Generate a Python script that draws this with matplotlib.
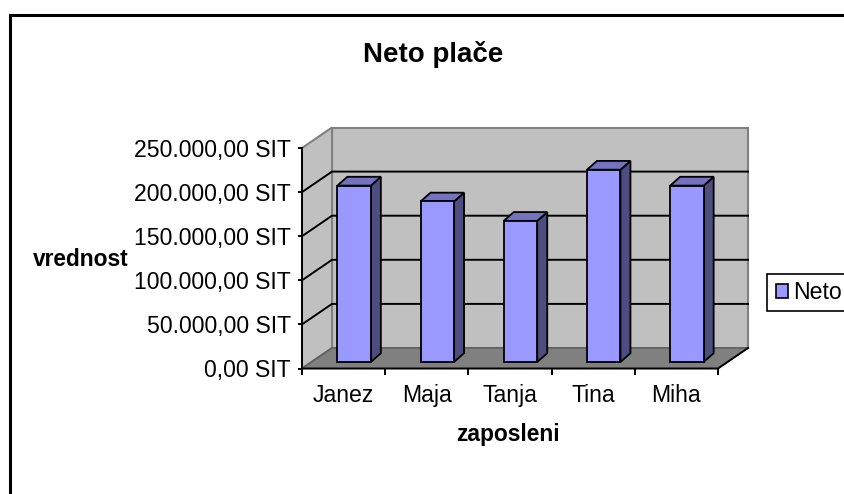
import matplotlib
matplotlib.use("Agg")
import matplotlib.pyplot as plt
from matplotlib.patches import Polygon, Rectangle, Patch

plt.rcParams['font.family'] = ['Liberation Sans', 'DejaVu Sans']

names = ['Janez', 'Maja', 'Tanja', 'Tina', 'Miha']
neto = [200000, 182000, 160000, 218000, 200000]
yticks = [0, 50000, 100000, 150000, 200000, 250000]
ylabels = ['0,00 SIT', '50.000,00 SIT', '100.000,00 SIT', '150.000,00 SIT', '200.000,00 SIT', '250.000,00 SIT']

W, H = 844, 494
fig = plt.figure(figsize=(W/100, H/100), dpi=100, facecolor='white')
L, R, T, B = 302, 718, 148, 368.5
ax = fig.add_axes([L/W, 1-B/H, (R-L)/W, (B-T)/H], facecolor='none')
ax.set_xlim(0, 5)
ax.set_ylim(0, 250000)
px = 5/(R-L)
py = 250000/(B-T)
DX, DY = 30*px, 20.5*py   # wall depth

def P(x, y, dx=0, dy=0):
    return (x+dx, y+dy)

kw = dict(clip_on=False)
# walls and floor
ax.add_patch(Polygon([P(0,0,DX,DY), P(5,0,DX,DY), P(5,250000,DX,DY), P(0,250000,DX,DY)],
                     fc='#C0C0C0', ec='#808080', lw=1.5, zorder=1, **kw))
ax.add_patch(Polygon([P(0,0), P(0,0,DX,DY), P(0,250000,DX,DY), P(0,250000)],
                     fc='#C0C0C0', ec='#808080', lw=1.5, zorder=1, **kw))
ax.add_patch(Polygon([P(0,0), P(5,0), P(5,0,DX,DY), P(0,0,DX,DY)],
                     fc='#808080', ec='#808080', lw=1, zorder=1.5, **kw))
# gridlines
for v in yticks[1:-1]:
    ax.plot([0, DX, 5+DX], [v, v+DY, v+DY], color='black', lw=1.4, zorder=2,
            solid_joinstyle='miter', **kw)
ax.plot([0, DX, 5+DX], [0, DY, DY], color='#606060', lw=1.2, zorder=2, **kw)
ax.plot([0, 5, 5+DX], [0, 0, DY], color='black', lw=1.4, zorder=2.5, **kw)

# bars
bw = 33.5*px
ox, oy = 10.5*px, 6.5*py      # front face offset from the front plane
ddx, ddy = 10*px, 8.8*py      # bar depth
ec = dict(edgecolor='black', linewidth=1.3, joinstyle='miter')
xs = [i + 0.5 + ox for i in range(len(names))]
ax.bar(xs, neto, width=bw, bottom=oy, color='#9999FF', zorder=5, clip_on=False, **ec)
for x, v in zip(xs, neto):
    x0, x1, y0, y1 = x-bw/2, x+bw/2, oy, oy+v
    ax.add_patch(Polygon([(x1,y0),(x1+ddx,y0+ddy),(x1+ddx,y1+ddy),(x1,y1)], fc='#4D4D80', zorder=4, clip_on=False, **ec))
    ax.add_patch(Polygon([(x0,y1),(x1,y1),(x1+ddx,y1+ddy),(x0+ddx,y1+ddy)], fc='#7373BF', zorder=4, clip_on=False, **ec))

# axes
for s in ['top', 'right', 'bottom']:
    ax.spines[s].set_visible(False)
ax.spines['left'].set_linewidth(1.4)
ax.spines['left'].set_zorder(3)
ax.set_yticks(yticks, ylabels, fontsize=16.6)
ax.set_xticks([i+0.5 for i in range(5)], names, fontsize=16.6)
ax.set_xticks(range(6), minor=True)
ax.tick_params(axis='y', length=3, width=1.4, pad=5)
ax.tick_params(axis='x', which='major', length=0, pad=11.5)
ax.tick_params(axis='x', which='minor', length=4, width=1.4, direction='out')

# texts
fig.text(433/W, 1-55/H, 'Neto plače', fontsize=20, fontweight='bold', ha='center', va='center')
fig.text(81/W, 1-259/H, 'vrednost', fontsize=16.4, fontweight='bold', ha='center', va='center')
fig.text(508/W, 1-434/H, 'zaposleni', fontsize=16.4, fontweight='bold', ha='center', va='center')

# legend
fig.add_artist(Rectangle((766.5/W, 1-311/H), 100/W, 37/H, transform=fig.transFigure,
                         fc='white', ec='black', lw=1.2, zorder=9))
leg = ax.legend(handles=[Patch(facecolor='#9999FF', edgecolor='black', linewidth=1.2, label='Neto')],
                loc='center left', bbox_to_anchor=(766.5/W, 1-292.5/H), bbox_transform=fig.transFigure,
                fontsize=16.6, frameon=False,
                handlelength=0.53, handleheight=0.53, handletextpad=0.22, borderpad=0.42, borderaxespad=0)
leg.set_zorder(10)
ax.set_zorder(10)

# outer chart frame
fig.add_artist(Rectangle((9.5/W, -1), 2, 1+(1-15.5/H), transform=fig.transFigure, fc='none', ec='black', lw=2.2))

fig.savefig('out.png', dpi=100, facecolor='white')
